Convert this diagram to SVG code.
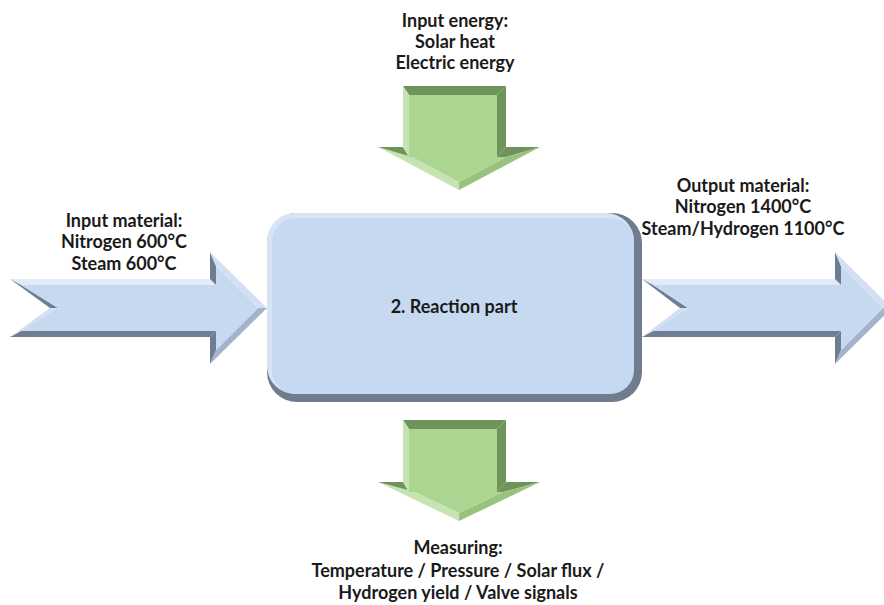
<svg xmlns="http://www.w3.org/2000/svg" width="884" height="605" viewBox="0 0 884 605">
<style>
  .t { font-family: Lato, "Liberation Sans", sans-serif; font-weight: bold; font-size: 18px; fill: #1a1a1a; text-anchor: middle; }
  .bl { fill: #e2ecf8; }
  .bl2 { fill: #d2e0f2; }
  .bm { fill: #a3b4ca; }
  .bd { fill: #6f7d91; }
  .bf { fill: #c6d9f1; }
  .gl { fill: #c6e4b1; }
  .gm { fill: #98c27d; }
  .gd { fill: #6f9459; }
  .gf { fill: #acd591; }
</style>
<rect width="884" height="605" fill="#ffffff"/>

<g id="connectors">
  <g id="arrow-input-material">
    <polygon class="bl" points="10,279 210,279 216,285 21,285"/>
    <polygon class="bd" points="210,279 210,252 216,266 216,285"/>
    <polygon class="bl2" points="210,252 267,308 258,308 216,266"/>
    <polygon class="bm" points="267,308 210,364 216,350 258,308"/>
    <polygon class="bd" points="210,364 210,337 216,331 216,350"/>
    <polygon class="bd" points="210,337 10,337 21,331 216,331"/>
    <polygon class="bl2" points="10,337 50,308 58,308 21,331"/>
    <polygon class="bd" points="50,308 10,279 21,285 58,308"/>
    <polygon class="bf" points="21,285 216,285 216,266 258,308 216,350 216,331 21,331 58,308"/>
  </g>
  <g id="arrow-output-material">
    <polygon class="bl" points="642,279 835,279 841,285 653,285"/>
    <polygon class="bd" points="835,279 835,252 841,266 841,285"/>
    <polygon class="bl2" points="835,252 892,308 883,308 841,266"/>
    <polygon class="bm" points="892,308 835,364 841,350 883,308"/>
    <polygon class="bd" points="835,364 835,337 841,331 841,350"/>
    <polygon class="bd" points="835,337 642,337 653,331 841,331"/>
    <polygon class="bl2" points="642,337 680,308 688,308 653,331"/>
    <polygon class="bd" points="680,308 642,279 653,285 688,308"/>
    <polygon class="bf" points="653,285 841,285 841,266 883,308 841,350 841,331 653,331 688,308"/>
  </g>
  <g id="arrow-input-energy">
    <polygon class="gd" points="403,86 506,86 497,95 409,95"/>
    <polygon class="gd" points="506,86 506,147 497,157 497,95"/>
    <polygon class="gd" points="506,147 540,147 506,157 497,157"/>
    <polygon class="gm" points="540,147 459,190 459,182 506,157"/>
    <polygon class="gl" points="459,190 378,147 412,157 459,182"/>
    <polygon class="gd" points="378,147 403,147 409,157 412,157"/>
    <polygon class="gl" points="403,147 403,86 409,95 409,157"/>
    <polygon class="gf" points="409,95 497,95 497,157 506,157 459,182 412,157 409,157"/>
  </g>
  <g id="arrow-measuring">
    <polygon class="gd" points="403,420 506,420 497,429 409,429"/>
    <polygon class="gd" points="506,420 506,482 497,492 497,429"/>
    <polygon class="gd" points="506,482 540,482 503,492 497,492"/>
    <polygon class="gm" points="540,482 459,521 459,513 503,492"/>
    <polygon class="gl" points="459,521 378,482 415,492 459,513"/>
    <polygon class="gd" points="378,482 403,482 409,492 415,492"/>
    <polygon class="gl" points="403,482 403,420 409,429 409,492"/>
    <polygon class="gf" points="409,429 497,429 497,492 503,492 459,513 415,492 409,492"/>
  </g>
</g>

<g id="reaction-part">
  <rect x="267" y="213" width="375" height="189" rx="30" fill="#6f7c8f"/>
  <rect x="267" y="213" width="367" height="181" rx="28" fill="#d8e4f4"/>
  <rect x="272" y="218" width="362" height="176" rx="24" class="bf"/>
  <text class="t" x="454" y="313">2. Reaction part</text>
</g>

<g id="label-input-energy">
  <text class="t" x="455" y="27">Input energy:</text>
  <text class="t" x="455" y="48">Solar heat</text>
  <text class="t" x="455" y="69">Electric energy</text>
</g>
<g id="label-input-material">
  <text class="t" x="124" y="227">Input material:</text>
  <text class="t" x="124" y="248">Nitrogen 600°C</text>
  <text class="t" x="124" y="270">Steam 600°C</text>
</g>
<g id="label-output-material">
  <text class="t" x="743" y="192">Output material:</text>
  <text class="t" x="743" y="213">Nitrogen 1400°C</text>
  <text class="t" x="743" y="235">Steam/Hydrogen 1100°C</text>
</g>
<g id="label-measuring">
  <text class="t" x="458" y="554">Measuring:</text>
  <text class="t" x="458" y="577">Temperature / Pressure / Solar flux /</text>
  <text class="t" x="458" y="599">Hydrogen yield / Valve signals</text>
</g>
</svg>
